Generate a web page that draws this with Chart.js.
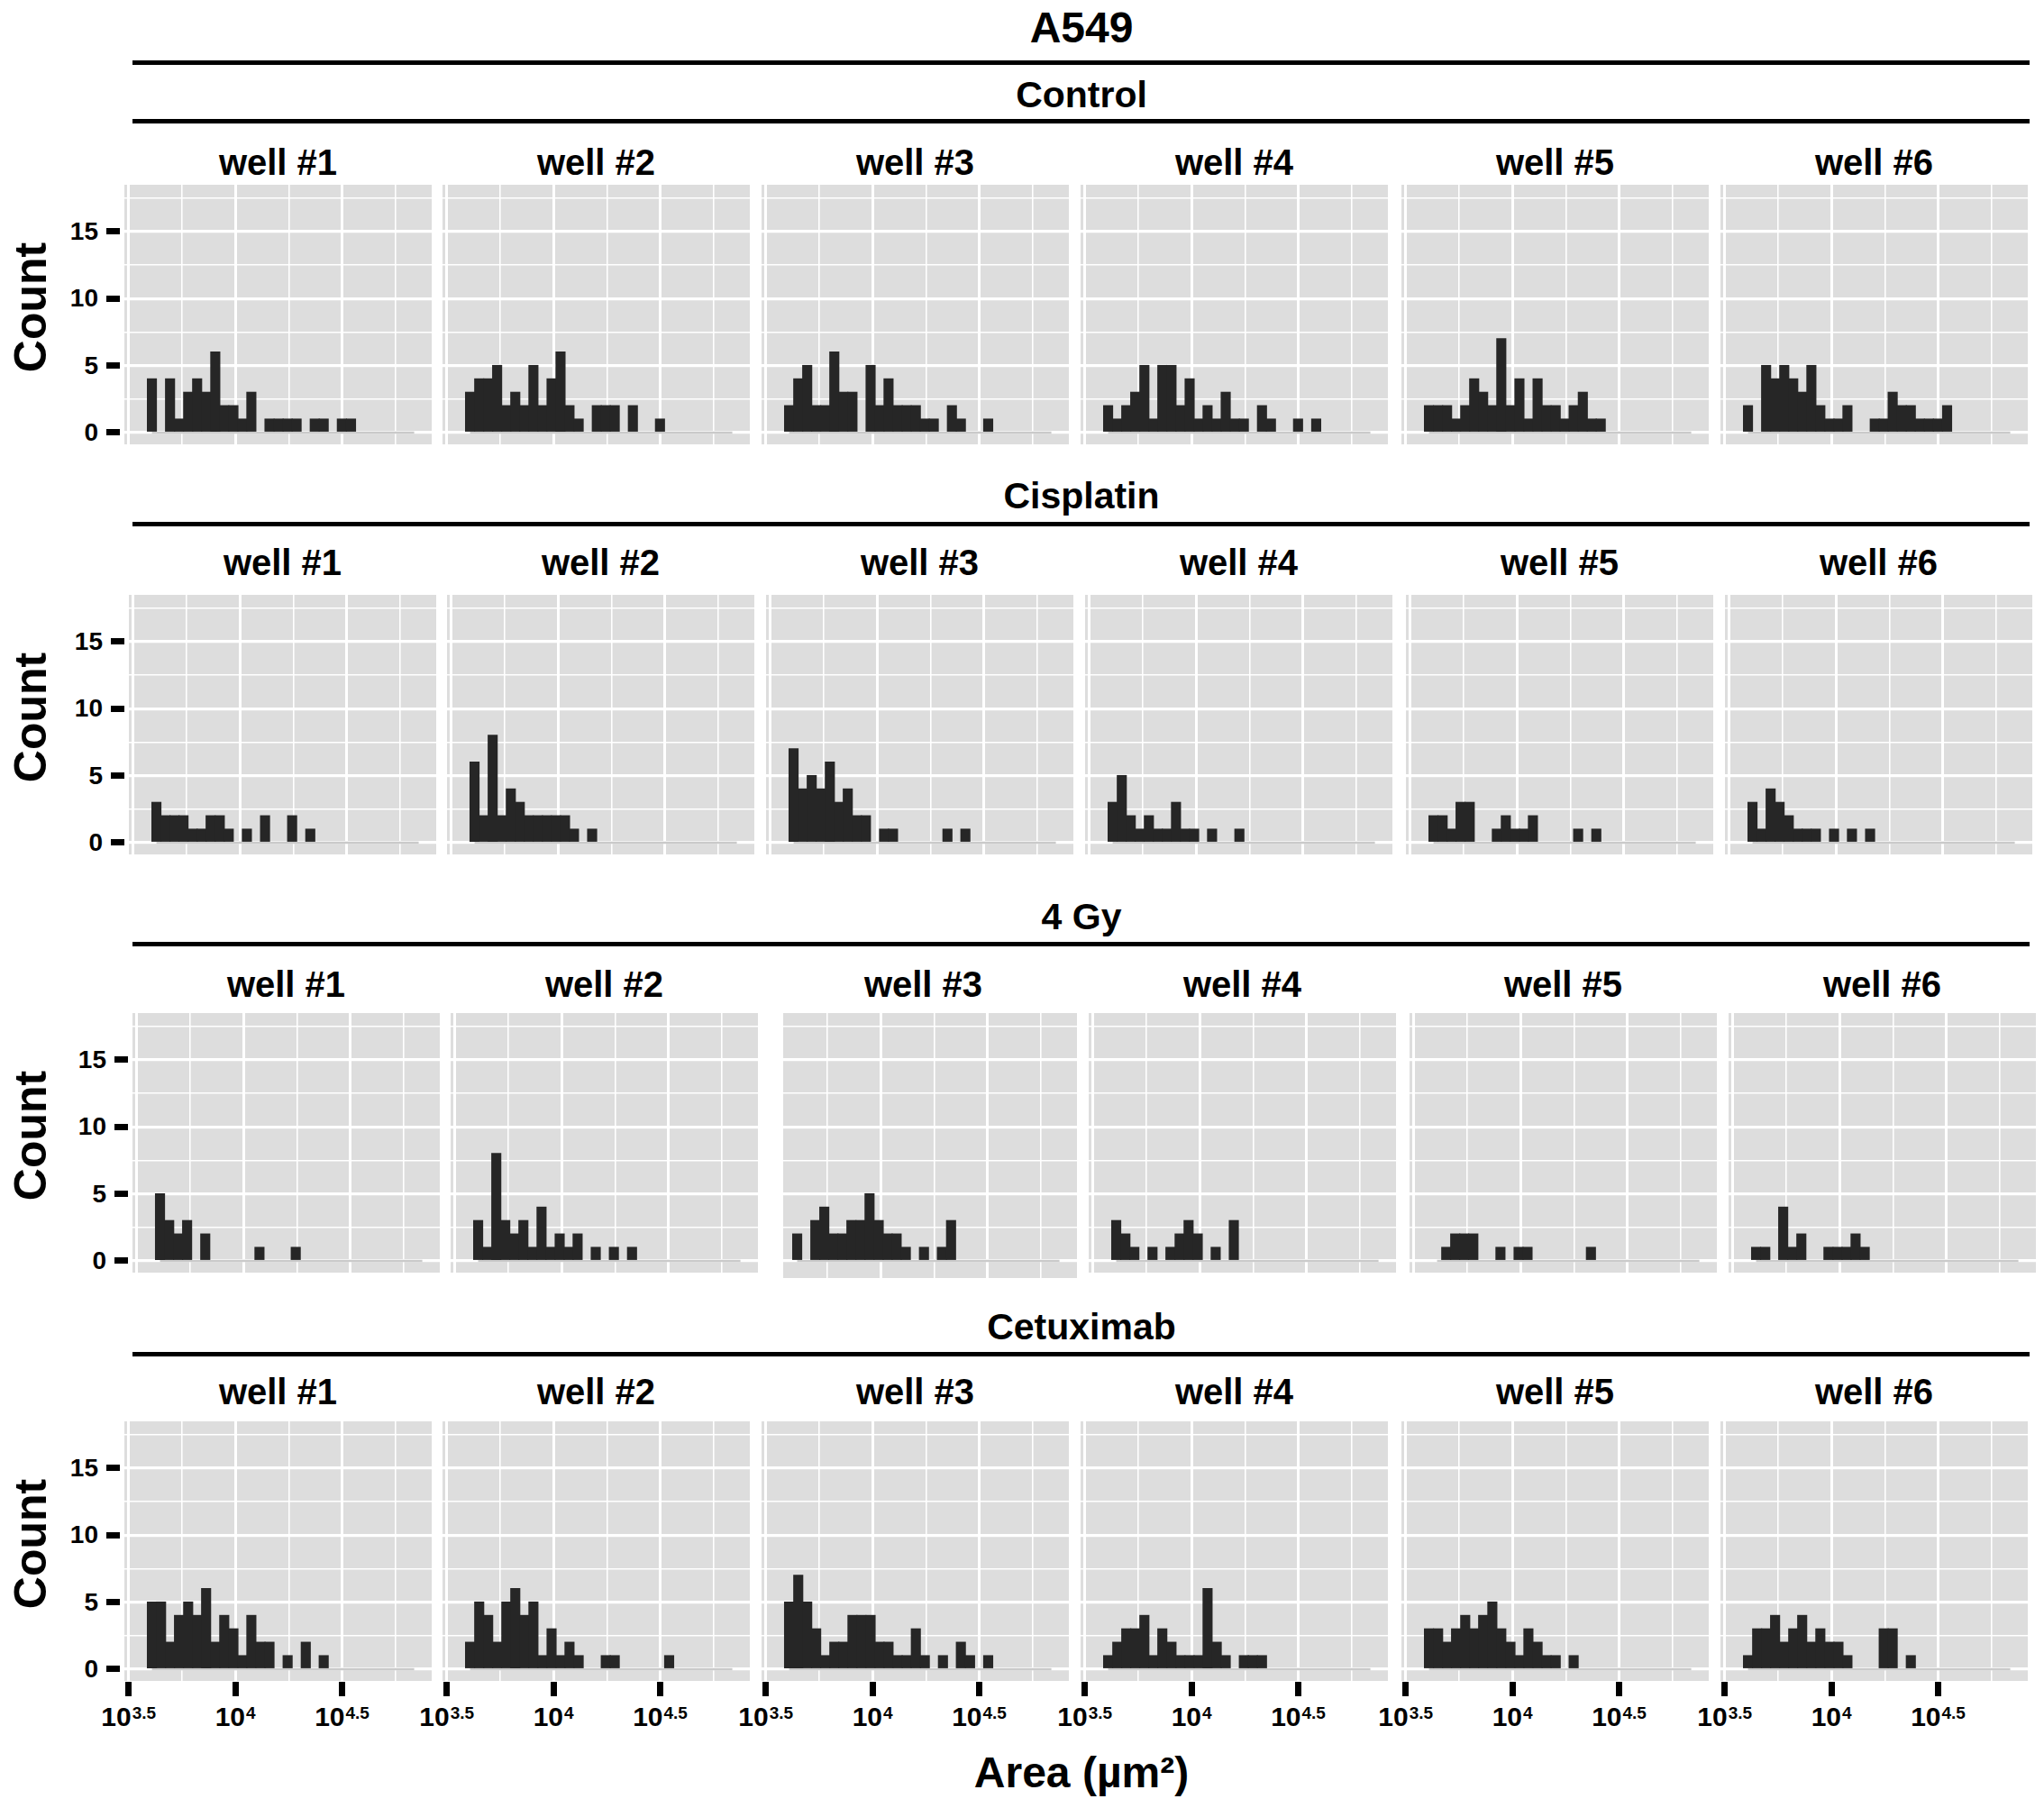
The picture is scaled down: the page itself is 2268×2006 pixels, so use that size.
<!DOCTYPE html>
<html><head><meta charset="utf-8">
<script src="https://cdn.jsdelivr.net/npm/chart.js@4.4.1/dist/chart.umd.min.js"></script>
<style>
html,body{margin:0;padding:0;background:#fff;}
body{width:2268px;height:2006px;position:relative;overflow:hidden;font-family:"Liberation Sans",Arial,Helvetica,sans-serif;font-weight:bold;color:#000;}
.t{position:absolute;white-space:nowrap;line-height:1;transform:translate(-50%,-50%);}
.rule{position:absolute;height:5px;background:#000;}
.mark{position:absolute;background:#000;}
canvas{position:absolute;}
.xl{position:absolute;white-space:nowrap;line-height:30px;font-size:30px;transform:translateX(-50%);}
.xl sup{font-size:19px;vertical-align:baseline;position:relative;top:-8px;margin-left:1px;}
.yl{position:absolute;white-space:nowrap;line-height:1;font-size:28px;transform:translate(-100%,-50%);}
</style></head><body>
<script>
// ---------------- data ----------------
const title = "A549";
const groups = ["Control", "Cisplatin", "4 Gy", "Cetuximab"];
const wells = ["well #1", "well #2", "well #3", "well #4", "well #5", "well #6"];
// histogram bin centres, log10(area in µm²)
const binCenters = [3.609,3.652,3.694,3.736,3.779,3.821,3.863,3.906,3.948,3.991,
                    4.033,4.075,4.118,4.160,4.203,4.245,4.287,4.330,4.372,4.414,
                    4.457,4.499,4.542,4.584,4.626,4.669,4.711,4.753,4.796,4.838];
const xTickValues = [3.5, 4, 4.5];
const xTickExponents = ["3.5", "4", "4.5"];
const yTickValues = [0, 5, 10, 15];
const xAxisTitle = "Area (µm²)";
const yAxisTitle = "Count";

// counts per bin
const control_w1 = [4,0,4,1,3,4,3,6,2,2,1,3,0,1,1,1,1,0,1,1,0,1,1,0,0,0,0,0,0,0];
const control_w2 = [3,4,4,5,2,3,2,5,2,4,6,2,1,0,2,2,2,0,2,0,0,1,0,0,0,0,0,0,0,0];
const control_w3 = [2,4,5,2,2,6,3,3,0,5,2,4,2,2,2,1,1,0,2,1,0,0,1,0,0,0,0,0,0,0];
const control_w4 = [2,1,2,3,5,1,5,5,2,4,1,2,1,3,1,1,0,2,1,0,0,1,0,1,0,0,0,0,0,0];
const control_w5 = [2,2,2,1,2,4,3,2,7,2,4,1,4,2,2,1,2,3,1,1,0,0,0,0,0,0,0,0,0,0];
const control_w6 = [2,0,5,4,5,4,3,5,2,1,1,2,0,0,1,1,3,2,2,1,1,1,2,0,0,0,0,0,0,0];

const cisplatin_w1 = [3,2,2,2,1,1,2,2,1,0,1,0,2,0,0,2,0,1,0,0,0,0,0,0,0,0,0,0,0,0];
const cisplatin_w2 = [6,2,8,2,4,3,2,2,2,2,2,1,0,1,0,0,0,0,0,0,0,0,0,0,0,0,0,0,0,0];
const cisplatin_w3 = [7,4,5,4,6,3,4,2,2,0,1,1,0,0,0,0,0,1,0,1,0,0,0,0,0,0,0,0,0,0];
const cisplatin_w4 = [3,5,2,1,2,1,1,3,1,1,0,1,0,0,1,0,0,0,0,0,0,0,0,0,0,0,0,0,0,0];
const cisplatin_w5 = [2,2,1,3,3,0,0,1,2,1,1,2,0,0,0,0,1,0,1,0,0,0,0,0,0,0,0,0,0,0];
const cisplatin_w6 = [3,1,4,3,2,1,1,1,0,1,0,1,0,1,0,0,0,0,0,0,0,0,0,0,0,0,0,0,0,0];

const gy4_w1 = [5,3,2,3,0,2,0,0,0,0,0,1,0,0,0,1,0,0,0,0,0,0,0,0,0,0,0,0,0,0];
const gy4_w2 = [3,1,8,3,2,3,1,4,1,2,1,2,0,1,0,1,0,1,0,0,0,0,0,0,0,0,0,0,0,0];
const gy4_w3 = [2,0,3,4,2,2,3,3,5,3,2,2,1,0,1,0,1,3,0,0,0,0,0,0,0,0,0,0,0,0];
const gy4_w4 = [3,2,1,0,1,0,1,2,3,2,0,1,0,3,0,0,0,0,0,0,0,0,0,0,0,0,0,0,0,0];
const gy4_w5 = [0,1,2,2,2,0,0,1,0,1,1,0,0,0,0,0,0,1,0,0,0,0,0,0,0,0,0,0,0,0];
const gy4_w6 = [1,1,0,4,1,2,0,0,1,1,1,2,1,0,0,0,0,0,0,0,0,0,0,0,0,0,0,0,0,0];

const cetuximab_w1 = [5,5,2,4,5,4,6,2,4,3,1,4,2,2,0,1,0,2,0,1,0,0,0,0,0,0,0,0,0,0];
const cetuximab_w2 = [2,5,4,2,5,6,4,5,1,3,1,2,1,0,0,1,1,0,0,0,0,0,1,0,0,0,0,0,0,0];
const cetuximab_w3 = [5,7,5,3,1,2,2,4,4,4,2,2,1,1,3,1,0,1,0,2,1,0,1,0,0,0,0,0,0,0];
const cetuximab_w4 = [1,2,3,3,4,1,3,2,1,1,1,6,2,1,0,1,1,1,0,0,0,0,0,0,0,0,0,0,0,0];
const cetuximab_w5 = [3,3,2,3,4,3,4,5,3,2,1,3,2,1,1,0,1,0,0,0,0,0,0,0,0,0,0,0,0,0];
const cetuximab_w6 = [1,3,3,4,2,3,4,2,3,2,2,1,0,0,0,3,3,0,1,0,0,0,0,0,0,0,0,0,0,0];

const panelValues = [
  [control_w1, control_w2, control_w3, control_w4, control_w5, control_w6],
  [cisplatin_w1, cisplatin_w2, cisplatin_w3, cisplatin_w4, cisplatin_w5, cisplatin_w6],
  [gy4_w1, gy4_w2, gy4_w3, gy4_w4, gy4_w5, gy4_w6],
  [cetuximab_w1, cetuximab_w2, cetuximab_w3, cetuximab_w4, cetuximab_w5, cetuximab_w6]
];

// ---------------- layout ----------------
const X_MIN = 3.48, X_MAX = 4.92;
const Y_MIN = -0.88, Y_MAX = 18.48;
const PANEL_LEFT = [138, 491, 845, 1199, 1555, 1909];
const PANEL_W = 341, PANEL_H = 288;
const ROW_TOP = [205, 660, 1124, 1577];
const ROW_DX = [0, 5, 9, 0];
const STRIP_Y = [105, 550, 1017, 1472];
const RULE_Y = [134, 581, 1047, 1502];
const WELL_Y = [180, 624, 1092, 1544];
const RULE_X0 = 147, RULE_X1 = 2252;
const PANEL_ADJ = {"2-2": {cutLeft: 15, extBottom: 6}};

const BAR_COLOR = '#262626';
const PANEL_BG = '#dddddd';

function addText(cls, txt, x, y, size, extra) {
  const d = document.createElement('div');
  d.className = cls;
  d.textContent = txt;
  d.style.left = x + 'px';
  d.style.top = y + 'px';
  if (size) d.style.fontSize = size + 'px';
  if (extra) Object.assign(d.style, extra);
  document.body.appendChild(d);
  return d;
}
function addRule(y) {
  const d = document.createElement('div');
  d.className = 'rule';
  d.style.left = RULE_X0 + 'px';
  d.style.width = (RULE_X1 - RULE_X0) + 'px';
  d.style.top = (y - 2.5) + 'px';
  document.body.appendChild(d);
}
function addMark(x, y, w, h) {
  const d = document.createElement('div');
  d.className = 'mark';
  d.style.left = x + 'px'; d.style.top = y + 'px';
  d.style.width = w + 'px'; d.style.height = h + 'px';
  document.body.appendChild(d);
}

const bgPlugin = {
  id: 'panelbg',
  beforeDraw(chart) {
    const {ctx, chartArea: a} = chart;
    ctx.save();
    ctx.fillStyle = PANEL_BG;
    ctx.fillRect(a.left, a.top, a.right - a.left, a.bottom - a.top);
    ctx.restore();
  }
};

function isMajorX(v) { return Math.abs(v * 2 - Math.round(v * 2)) < 1e-6; }
function isMajorY(v) { return Math.abs(v / 5 - Math.round(v / 5)) < 1e-6; }

const charts = [];
const geom = [];
function makePanel(r, c) {
  const values = panelValues[r][c];
  const adj = PANEL_ADJ[r + '-' + c] || {cutLeft: 0, extBottom: 0};
  const left = PANEL_LEFT[c] + ROW_DX[r] + adj.cutLeft;
  const w = PANEL_W - adj.cutLeft;
  const top = ROW_TOP[r];
  const h = PANEL_H + adj.extBottom;
  const xmin = X_MIN + adj.cutLeft / PANEL_W * (X_MAX - X_MIN);
  const ymin = Y_MIN - adj.extBottom / PANEL_H * (Y_MAX - Y_MIN);
  const cv = document.createElement('canvas');
  cv.width = w; cv.height = h;
  cv.style.left = left + 'px'; cv.style.top = top + 'px';
  cv.style.width = w + 'px'; cv.style.height = h + 'px';
  document.body.appendChild(cv);
  const chart = new Chart(cv, {
    type: 'bar',
    data: {
      datasets: [
        {
          type: 'bar',
          data: binCenters.map((x, i) => ({x: x, y: values[i]})),
          backgroundColor: (ctx) => (ctx.raw && ctx.raw.y > 0) ? BAR_COLOR : 'rgba(0,0,0,0)',
          borderWidth: 0,
          barPercentage: 1,
          categoryPercentage: 1,
          inflateAmount: 0.6,
          order: 0
        },
        {
          type: 'line',
          data: binCenters.map((x) => ({x: x, y: 0})),
          borderColor: '#cacaca',
          borderWidth: 2.5,
          pointRadius: 0,
          order: 1
        }
      ]
    },
    options: {
      responsive: false,
      animation: false,
      devicePixelRatio: 1,
      layout: {padding: 0, autoPadding: false},
      events: [],
      plugins: {legend: {display: false}, tooltip: {enabled: false}},
      scales: {
        x: {
          type: 'linear', min: xmin, max: X_MAX, offset: false,
          ticks: {display: false, stepSize: 0.25, includeBounds: false},
          grid: {color: '#ffffff', drawTicks: false, offset: false,
                 lineWidth: (ctx) => (ctx.tick && isMajorX(ctx.tick.value)) ? 3 : 1.6},
          border: {display: false}
        },
        y: {
          type: 'linear', min: ymin, max: Y_MAX,
          ticks: {display: false, stepSize: 2.5, includeBounds: false},
          grid: {color: '#ffffff', drawTicks: false,
                 lineWidth: (ctx) => (ctx.tick && isMajorY(ctx.tick.value)) ? 3.2 : 1.6},
          border: {display: false}
        }
      }
    },
    plugins: [bgPlugin]
  });
  charts[r] = charts[r] || [];
  charts[r][c] = chart;
  geom[r] = geom[r] || [];
  geom[r][c] = {left: left, top: top, w: w, h: h};
}

// ---------------- build ----------------
addText('t', title, 1200, 31, 48);
addRule(69);
for (let r = 0; r < groups.length; r++) {
  addText('t', groups[r], 1200, STRIP_Y[r], 41);
  addRule(RULE_Y[r]);
  for (let c = 0; c < wells.length; c++) {
    makePanel(r, c);
    addText('t', wells[c], PANEL_LEFT[c] + ROW_DX[r] + PANEL_W / 2, WELL_Y[r], 40);
  }
  // y axis (first column)
  const g0 = geom[r][0];
  const ys = charts[r][0].scales.y;
  const pl = PANEL_LEFT[0] + ROW_DX[r];
  yTickValues.forEach((v) => {
    const py = g0.top + ys.getPixelForValue(v);
    addMark(pl - 20, py - 3.5, 15, 7);
    addText('yl', String(v), pl - 29, py);
  });
  addText('t', yAxisTitle, 34, g0.top + PANEL_H / 2 - 8, 50, {transform: 'translate(-50%,-50%) rotate(-90deg)'});
}
// x axis (bottom row)
const lastRow = groups.length - 1;
for (let c = 0; c < wells.length; c++) {
  const g = geom[lastRow][c];
  const xs = charts[lastRow][c].scales.x;
  const bottom = g.top + g.h;
  xTickValues.forEach((v, k) => {
    const px = g.left + xs.getPixelForValue(v);
    addMark(px - 3.5, bottom + 1, 7, 16);
    const d = document.createElement('div');
    d.className = 'xl';
    d.style.left = px + 'px';
    d.style.top = '1890px';
    d.appendChild(document.createTextNode('10'));
    const s = document.createElement('sup');
    s.textContent = xTickExponents[k];
    d.appendChild(s);
    document.body.appendChild(d);
  });
}
addText('t', xAxisTitle, 1200, 1967, 48);
</script>
</body></html>
